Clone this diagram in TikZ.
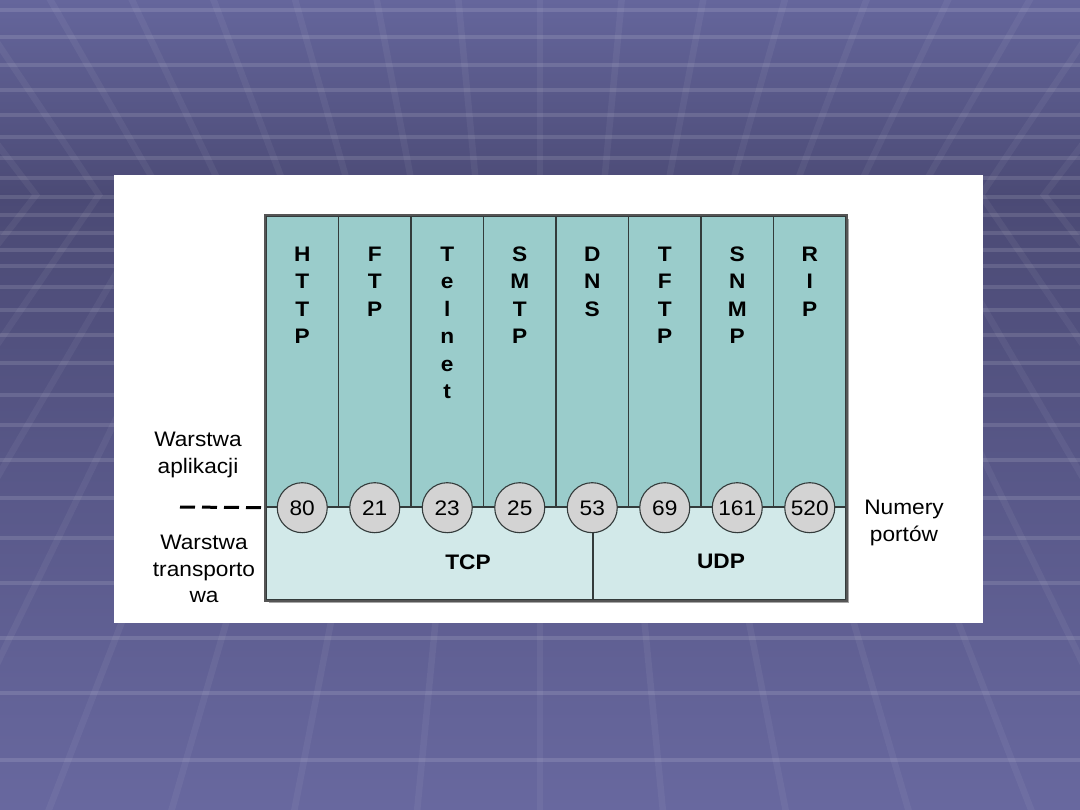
\documentclass[tikz,border=0pt]{standalone}
\usepackage{fontspec}
\setmainfont{Liberation Sans}[FakeStretch=1.08]
\usetikzlibrary{calc}
\definecolor{bgtop}{HTML}{65669C}
\definecolor{bgmid}{HTML}{4B4A75}
\definecolor{bgbot}{HTML}{68689F}
\definecolor{appfill}{HTML}{9ACCCB}
\definecolor{trfill}{HTML}{D2E9E9}
\definecolor{portfill}{HTML}{D3D3D3}
\definecolor{edgecol}{HTML}{333B3B}
\definecolor{framecol}{HTML}{555555}
\definecolor{shadowcol}{HTML}{A8A8A8}
\newcommand{\toprule}{\rule{0pt}{16pt}}
\tikzset{
  hline/.style={white, opacity=0.12, line width=4pt},
  slantline/.style={white, opacity=0.05, line width=6.5pt},
  appcol/.style={draw=edgecol, fill=appfill, line width=1.4pt, minimum width=72.5pt, minimum height=291pt, inner sep=0pt},
  trbox/.style={draw=edgecol, fill=trfill, line width=1.3pt, minimum height=93pt, inner sep=0pt},
  proto/.style={align=center, inner sep=0pt, anchor=north, font={\bfseries\fontsize{21}{27.5}\selectfont}},
  port/.style={circle, draw=edgecol, fill=portfill, line width=1.1pt, minimum size=50pt, inner sep=0pt, text height=15pt, text depth=0pt, font={\fontsize{21}{25}\selectfont}},
  lbl/.style={align=center, inner sep=0pt, anchor=north, font={\fontsize{21}{26.5}\selectfont}},
  trlbl/.style={inner sep=0pt, text height=15pt, text depth=0pt, font={\bfseries\fontsize{21}{25}\selectfont}},
  frame/.style={draw=framecol, line width=2pt},
  dashline/.style={black, line width=3pt, dash pattern=on 15pt off 7pt}
}
\begin{document}
\begin{tikzpicture}[x=1pt,y=-1pt]
\useasboundingbox (0,0) rectangle (1080,810);
% background
\shade[top color=bgtop, bottom color=bgmid] (0,0) rectangle (1080,196);
\shade[top color=bgmid, bottom color=bgbot] (0,195) rectangle (1080,810);
\begin{scope}
\clip (0,0) rectangle (1080,810);
\foreach \k in {-10,...,10} {
  \draw[slantline] ({540+81.8*(\k)},-2) -- ({540+63*(\k)},195) -- ({540+123*(\k)},812);
}
\foreach \yy in {10,37,65,90,115,137,158,178,197,215,233,250,266,287,310,335,363,395,425,460,498,538,583,638,693,760} {
  \draw[hline] (0,\yy) -- (1080,\yy);
}
\end{scope}
% white panel
\fill[white] (114,175) rectangle (983,623);
% shadow
\fill[shadowcol] (269,219) rectangle (849,603);
% application layer columns
\foreach [count=\i] \t in {{H\\T\\T\\P},{F\\T\\P},{T\\e\\l\\n\\e\\t},{S\\M\\T\\P},{D\\N\\S},{T\\F\\T\\P},{S\\N\\M\\P},{R\\I\\P}} {
  \node[appcol] (c\i) at ({266+72.5*(\i-0.5)},361.5) {};
  \node[proto] (t\i) at ([yshift=-30pt]c\i.north) {\toprule\t};
}
% transport layer
\node[trbox, minimum width=327pt] (tcp) at (429.5,553.5) {};
\node[trbox, minimum width=253pt] (udp) at (719.5,553.5) {};
\node[trlbl] (tcpl) at (468,562) {TCP};
\node[trlbl] (udpl) at (721,561) {UDP};
% outer frame
\draw[frame] (c1.north west) rectangle (udp.south east);
% ports
\foreach [count=\i] \p in {80,21,23,25,53,69,161,520} {
  \node[port] (p\i) at (c\i.south) {\p};
}
% dashed boundary
\coordinate (dl) at (180,507);
\draw[dashline] (dl) -- (c1.south west);
% side labels
\node[lbl] (la) at (198,432) {Warstwa\\aplikacji};
\node[lbl] (lt) at (204,535) {Warstwa\\transporto\\wa};
\node[lbl] (ln) at (904,500) {Numery\\portów};
\end{tikzpicture}
\end{document}
